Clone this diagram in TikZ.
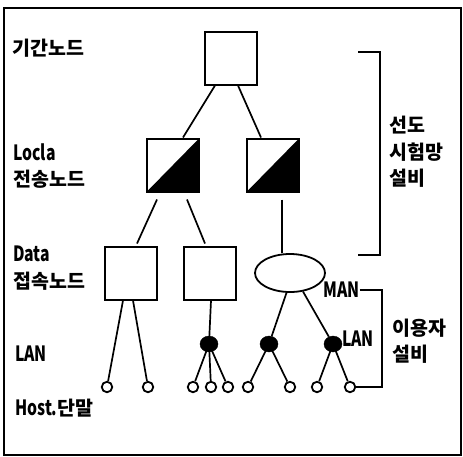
\documentclass[tikz,border=0pt]{standalone}
\usepackage{fontspec}
\setmainfont{Noto Sans CJK KR}
\newfontfamily\latn{Noto Sans CJK KR}[FakeStretch=0.75]
\usetikzlibrary{shapes.geometric}
\newcommand\hg[1]{{\rmfamily\fontsize{19.5}{26.5}\selectfont\bfseries #1}}
\tikzset{
  lbl/.style={inner sep=0pt, anchor=west, align=left, font=\latn\fontsize{21}{26.5}\selectfont\bfseries},
  sq/.style={draw, line width=2pt, minimum width=52pt, minimum height=53pt, inner sep=0pt},
  halfsq/.style={sq, path picture={\fill (path picture bounding box.south west) -- (path picture bounding box.north east) -- (path picture bounding box.south east) -- cycle;}},
  man/.style={draw, ellipse, line width=1.8pt, minimum width=70pt, minimum height=38pt, inner sep=0pt},
  lan/.style={ellipse, fill=black, draw, minimum width=18pt, minimum height=16pt, inner sep=0pt},
  host/.style={circle, draw, line width=1.8pt, minimum size=10.5pt, inner sep=0pt},
  link/.style={line width=1.7pt},
  brk/.style={line width=1.1pt},
}
\begin{document}
\begin{tikzpicture}[x=1pt,y=-1pt]
\useasboundingbox (0,0) rectangle (463,456);
\draw[line width=1.6pt] (4,8) rectangle (461,455);
% labels
\node[lbl] (l1) at (12,48) {\hg{기간노드}};
\node[lbl] (l2) at (13,166) {Locla\\\hg{전송노드}};
\node[lbl] (l3) at (13,268) {Data\\\hg{접속노드}};
\node[lbl] (l4) at (15,354) {LAN};
\node[lbl] (l5) at (15,408) {Host.\hg{단말}};
\node[lbl] (r1) at (389,152) {\hg{선도}\\\hg{시험망}\\\hg{설비}};
\node[lbl] (r2) at (392,341) {\hg{이용자}\\\hg{설비}};
% nodes
\node[sq] (top) at (231,58) {};
\node[halfsq] (loca) at (173,165) {};
\node[halfsq] (locb) at (273,165) {};
\node[sq] (da) at (131,273) {};
\node[sq] (db) at (210,273) {};
\node[man] (mn) at (290,273) {};
\node[lbl] (mantxt) at (323,290) {MAN};
\node[lan] (la) at (209,344) {};
\node[lan] (lb) at (269,344) {};
\node[lan] (lc) at (333,344) {};
\node[lbl] (lantxt) at (342,339) {LAN};
\foreach \n/\x in {1/107,2/148,3/193,4/211,5/228,6/248,7/290,8/317,9/350}
  \node[host] (h\n) at (\x,387) {};
% links
\draw[link] ([xshift=-16pt]top.south) -- ([xshift=10pt]loca.north);
\draw[link] ([xshift=7pt]top.south) -- ([xshift=-12pt]locb.north);
\draw[link] ([xshift=-16pt,yshift=-7pt]loca.south) -- ([xshift=6pt,yshift=2pt]da.north);
\draw[link] ([xshift=14pt,yshift=-7pt]loca.south) -- ([xshift=-5pt,yshift=2pt]db.north);
\draw[link] ([xshift=9pt,yshift=-7pt]locb.south) -- ([xshift=-8pt]mn.north);
\draw[link] ([xshift=-8pt]da.south) -- (h1);
\draw[link] ([xshift=2pt]da.south) -- (h2);
\draw[link] ([xshift=1pt]db.south) -- (la);
\draw[link] (mn.-100) -- (lb);
\draw[link] (mn.-55) -- (lc);
\draw[link] (la.center) -- (h3);
\draw[link] (la.center) -- (h4);
\draw[link] (la.center) -- (h5);
\draw[link] (lb.center) -- (h6);
\draw[link] (lb.center) -- (h7);
\draw[link] (lc.center) -- (h8);
\draw[link] (lc.center) -- (h9);
% brackets
\coordinate (b1) at (358,52);
\coordinate (b2) at (358,255);
\draw[brk] (b1) -- (380,52) -- (380,255) -- (b2);
\draw[brk] (mantxt.east) -- (382,290) -- (382,387) -- (h9.east);
\end{tikzpicture}
\end{document}
